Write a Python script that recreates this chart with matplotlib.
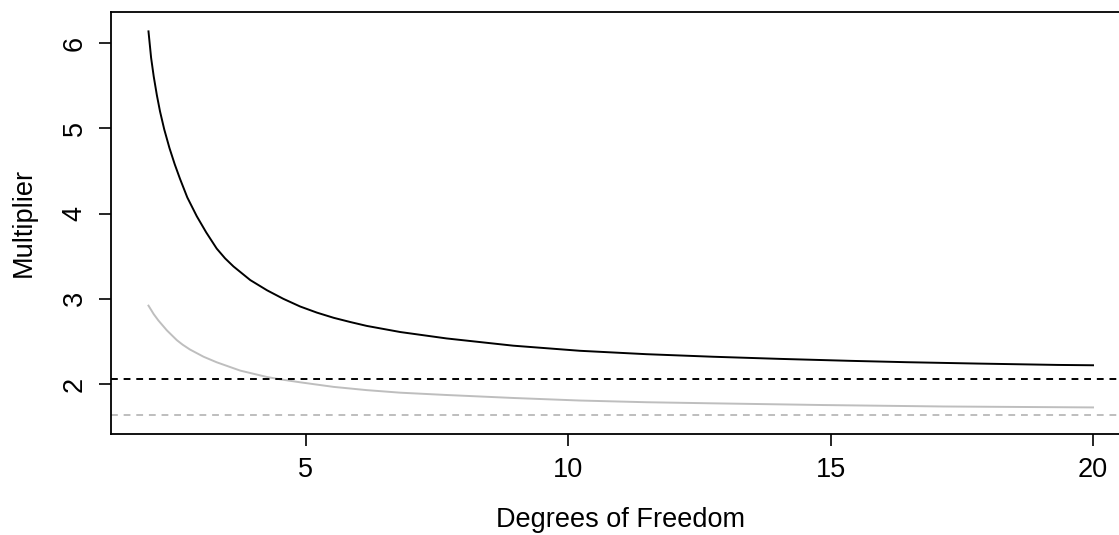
import matplotlib
matplotlib.use('Agg')
import matplotlib.pyplot as plt

# values
df_upper = [2.0, 2.05, 2.10, 2.16, 2.22, 2.30, 2.40, 2.50, 2.60, 2.74, 2.92, 3.10, 3.30,
            3.46, 3.62, 3.94, 4.26, 4.57, 4.89, 5.21, 5.53, 5.85, 6.16, 6.80, 7.68, 8.95,
            10.22, 11.49, 12.76, 14.03, 15.37, 16.45, 17.79, 19.32, 20.0]
mult_upper = [6.14, 5.83, 5.61, 5.39, 5.20, 4.99, 4.77, 4.58, 4.41, 4.19, 3.97, 3.78, 3.59,
              3.475, 3.38, 3.22, 3.10, 3.00, 2.91, 2.838, 2.777, 2.727, 2.682, 2.61, 2.535,
              2.45, 2.39, 2.35, 2.32, 2.295, 2.272, 2.256, 2.24, 2.224, 2.22]

df_lower = [2.0, 2.10, 2.19, 2.35, 2.54, 2.65, 2.79, 3.05, 3.30, 3.75, 4.26, 4.51, 4.89,
            5.53, 6.16, 6.80, 7.68, 8.95, 10.22, 11.49, 12.76, 14.03, 14.86, 17.15, 20.0]
mult_lower = [2.92, 2.82, 2.745, 2.63, 2.515, 2.462, 2.405, 2.32, 2.255, 2.157, 2.082, 2.055,
              2.02, 1.966, 1.928, 1.898, 1.871, 1.836, 1.806, 1.786, 1.773, 1.761, 1.753,
              1.736, 1.725]

limit_upper = 2.06
limit_lower = 1.64

x_ticks = [5, 10, 15, 20]
y_ticks = [2, 3, 4, 5, 6]

plt.rcParams['font.family'] = ['Liberation Sans', 'DejaVu Sans']

W, H = 1119, 535
fig = plt.figure(figsize=(W / 100, H / 100), dpi=100)
ax = fig.add_axes([110.7 / W, 101 / H, (1130.8 - 110.7) / W, 422.3 / H])

ax.plot(df_upper, mult_upper, color='black', lw=1.4)
ax.plot(df_lower, mult_lower, color='#bebebe', lw=1.4)
ax.axhline(limit_upper, color='black', lw=1.4, dashes=(3.5, 3))
ax.axhline(limit_lower, color='#bebebe', lw=1.4, dashes=(3.5, 3))

ax.set_xlim(1.28, 20.72)
ax.set_ylim(1.413, 6.371)
ax.set_xticks(x_ticks)
ax.set_yticks(y_ticks)
ax.set_yticklabels([str(v) for v in y_ticks], rotation=90, va='center')
ax.tick_params(length=8.5, width=1.2, labelsize=19.5, pad=8)
for s in ax.spines.values():
    s.set_linewidth(1.3)

ax.set_xlabel('Degrees of Freedom', fontsize=19.5, labelpad=17)
ax.set_ylabel('Multiplier', fontsize=19.5, labelpad=18)

fig.savefig('out.png', dpi=100)
